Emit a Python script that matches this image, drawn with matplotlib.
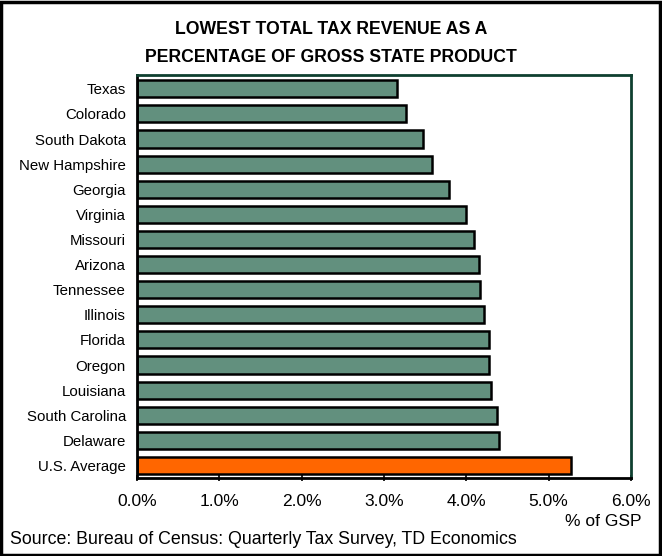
import numpy as np
import matplotlib.pyplot as plt
from matplotlib.patches import Rectangle
from matplotlib.ticker import FuncFormatter

plt.rcParams['font.family'] = ['Liberation Sans', 'DejaVu Sans']

states = ["Texas", "Colorado", "South Dakota", "New Hampshire", "Georgia",
          "Virginia", "Missouri", "Arizona", "Tennessee", "Illinois",
          "Florida", "Oregon", "Louisiana", "South Carolina", "Delaware",
          "U.S. Average"]
tax_share = [3.16, 3.27, 3.47, 3.58, 3.79, 3.99, 4.09, 4.15, 4.16, 4.22,
             4.27, 4.28, 4.30, 4.37, 4.40, 5.27]

green = "#62907e"
orange = "#ff6600"
colors = [green] * (len(states) - 1) + [orange]

fig = plt.figure(figsize=(6.62, 5.56), dpi=100)
ax = fig.add_axes([137 / 662, 1 - 478 / 556, 494 / 662, 403 / 556])

y = np.arange(len(states))
ax.barh(y, tax_share, height=0.68, color=colors, edgecolor="black",
        linewidth=1.8)
ax.set_ylim(len(states) - 0.5, -0.55)
ax.set_xlim(0, 6)
ax.set_yticks(y)
ax.set_yticklabels(states, fontsize=10.8)
ax.set_xticks(np.arange(0, 7, 1))
ax.xaxis.set_major_formatter(FuncFormatter(lambda v, p: f"{v:.1f}%"))
ax.tick_params(axis="x", labelsize=12.5, length=5, width=1.2, direction="inout", pad=9)
ax.tick_params(axis="y", length=0, pad=8)

for side in ("top", "right"):
    ax.spines[side].set_color("#0f4030")
    ax.spines[side].set_linewidth(2)
for side in ("left", "bottom"):
    ax.spines[side].set_color("black")
    ax.spines[side].set_linewidth(2)

fig.text(0.5, 1 - 30 / 556, "LOWEST TOTAL TAX REVENUE AS A", ha="center",
         va="center", fontsize=12.7, fontweight="bold")
fig.text(0.5, 1 - 57 / 556, "PERCENTAGE OF GROSS STATE PRODUCT", ha="center",
         va="center", fontsize=12.7, fontweight="bold")
fig.text(603 / 662, 1 - 521 / 556, "% of GSP", ha="center", va="center",
         fontsize=12.5)
fig.text(10 / 662, 1 - 540 / 556,
         "Source: Bureau of Census: Quarterly Tax Survey, TD Economics",
         ha="left", va="center", fontsize=12.8)

fig.patches.append(Rectangle((0.002, 0.002), 0.995, 0.995, transform=fig.transFigure,
                             fill=False, edgecolor="black", linewidth=2.5))

fig.savefig("out.png", dpi=100)
